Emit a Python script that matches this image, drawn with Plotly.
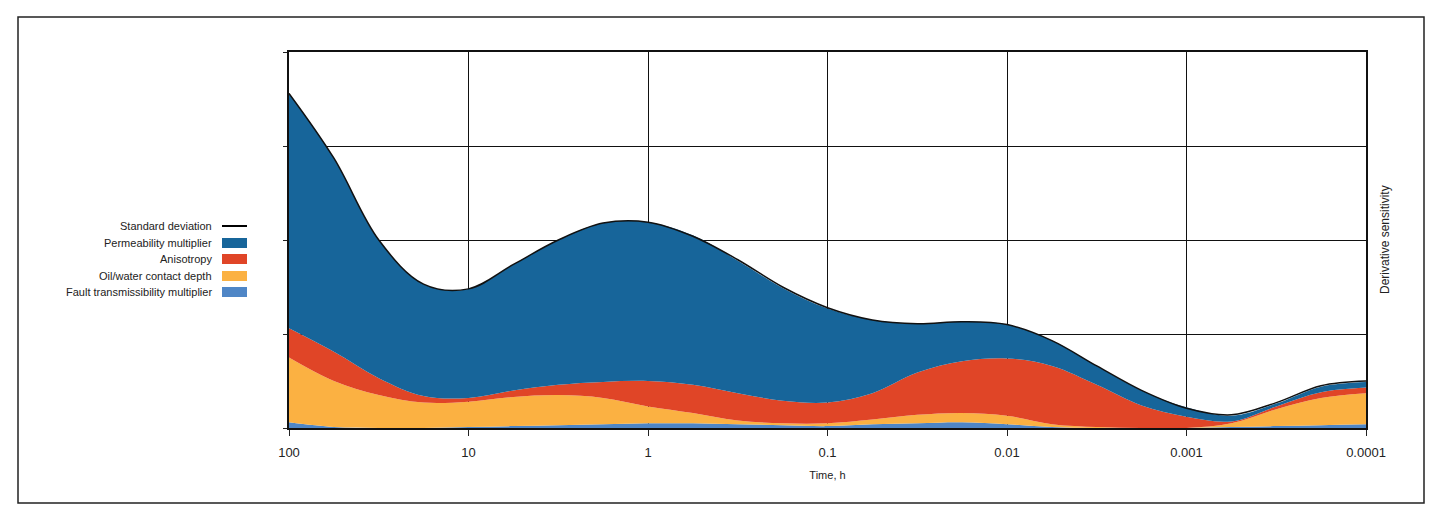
import plotly.graph_objects as go

# Time, h (log spacing, quarter decades from 100 h down to 0.0001 h)
time_h = [100, 56.2, 31.6, 17.8, 10, 5.62, 3.16, 1.78, 1, 0.562, 0.316, 0.178, 0.1,
          0.0562, 0.0316, 0.0178, 0.01, 0.00562, 0.00316, 0.00178, 0.001,
          0.000562, 0.000316, 0.000178, 0.0001]

# layer thicknesses (stacked)
fault_trans = [0.06, 0.01, 0.0, 0.0, 0.01, 0.02, 0.03, 0.04, 0.05, 0.05, 0.04, 0.03, 0.02,
               0.04, 0.05, 0.06, 0.04, 0.01, 0.0, 0.0, 0.0, 0.01, 0.02, 0.03, 0.04]
oil_water = [0.69, 0.49, 0.35, 0.27, 0.27, 0.31, 0.32, 0.28, 0.18, 0.11, 0.04, 0.02, 0.03,
             0.05, 0.09, 0.10, 0.09, 0.03, 0.01, 0.0, 0.0, 0.04, 0.18, 0.29, 0.33]
anisotropy = [0.31, 0.31, 0.18, 0.07, 0.04, 0.07, 0.11, 0.17, 0.27, 0.30, 0.29, 0.24, 0.22,
              0.28, 0.45, 0.55, 0.61, 0.62, 0.45, 0.24, 0.12, 0.02, 0.03, 0.06, 0.06]
permeability = [2.50, 2.06, 1.47, 1.19, 1.16, 1.34, 1.54, 1.69, 1.69, 1.59, 1.41, 1.20, 1.00,
                0.78, 0.52, 0.42, 0.36, 0.27, 0.20, 0.16, 0.10, 0.06, 0.03, 0.06, 0.06]
std_dev = [3.56, 2.87, 2.00, 1.53, 1.48, 1.74, 2.00, 2.18, 2.19, 2.04, 1.79, 1.50, 1.28,
           1.15, 1.11, 1.13, 1.10, 0.93, 0.66, 0.40, 0.21, 0.14, 0.27, 0.45, 0.50]

tick_vals = [100, 10, 1, 0.1, 0.01, 0.001, 0.0001]
tick_text = ["100", "10", "1", "0.1", "0.01", "0.001", "0.0001"]

colors = {
    "fault": "#4F86C6",
    "oil": "#FBB142",
    "aniso": "#E04527",
    "perm": "#17659A",
}

FONT = "Liberation Sans Narrow, Liberation Sans, Arial, sans-serif"

fig = go.Figure()

layers = [
    ("Fault transmissibility multiplier", fault_trans, colors["fault"]),
    ("Oil/water contact depth", oil_water, colors["oil"]),
    ("Anisotropy", anisotropy, colors["aniso"]),
    ("Permeability multiplier", permeability, colors["perm"]),
]
for name, vals, col in layers:
    fig.add_trace(go.Scatter(
        x=time_h, y=vals, name=name, stackgroup="s", mode="lines",
        line=dict(width=0, shape="spline", smoothing=1.0, color=col),
        fillcolor=col, showlegend=False,
    ))

fig.add_trace(go.Scatter(
    x=time_h, y=std_dev, name="Standard deviation", mode="lines",
    line=dict(color="#111111", width=1.5, shape="spline", smoothing=1.0),
    showlegend=False,
))

# --- légende faite à la main (symboles à droite du texte) ---
# coordonnées pixel de la page -> paper (zone de tracé 289..1366 x 52..428)
W, H = 1077.0, 376.0
def px(x):
    return (x - 289) / W
def py(y):
    return (428 - y) / H

legend_items = [
    ("Standard deviation", None),
    ("Permeability multiplier", colors["perm"]),
    ("Anisotropy", colors["aniso"]),
    ("Oil/water contact depth", colors["oil"]),
    ("Fault transmissibility multiplier", colors["fault"]),
]
shapes = []
annotations = []
y_centers = [226, 243, 259, 276, 292]
for (label, col), yc in zip(legend_items, y_centers):
    if col is None:
        shapes.append(dict(type="line", xref="paper", yref="paper",
                           x0=px(222), x1=px(247), y0=py(yc), y1=py(yc),
                           line=dict(color="black", width=2)))
    else:
        shapes.append(dict(type="rect", xref="paper", yref="paper",
                           x0=px(222), x1=px(247), y0=py(yc - 5), y1=py(yc + 5),
                           fillcolor=col, line=dict(width=0)))
    annotations.append(dict(text=label, xref="paper", yref="paper",
                            x=px(214), y=py(yc), xanchor="right", yanchor="middle",
                            showarrow=False, font=dict(size=11, color="#222222", family=FONT)))

# cadre extérieur
shapes.append(dict(type="rect", xref="paper", yref="paper",
                   x0=px(18), x1=px(1424), y0=py(503), y1=py(17),
                   line=dict(color="#222222", width=1.5), fillcolor="rgba(0,0,0,0)", layer="below"))

annotations.append(dict(text="Derivative sensitivity", xref="paper", yref="paper",
                        x=px(1385), y=0.5, textangle=-90, showarrow=False,
                        xanchor="center", yanchor="middle",
                        font=dict(size=12, color="#222222", family=FONT)))

# la page a une marge de 8 px : on compense
fig.update_layout(
    width=1434, height=511,
    margin=dict(l=281, r=76, t=44, b=91),
    paper_bgcolor="white", plot_bgcolor="white",
    font=dict(family=FONT, color="#222222"),
    shapes=shapes, annotations=annotations,
    xaxis=dict(
        type="log", range=[2, -4],
        tickvals=tick_vals, ticktext=tick_text,
        tickfont=dict(size=13, family=FONT, color="#222222"),
        ticks="outside", ticklen=6, tickcolor="#222222",
        ticklabelstandoff=6,
        showgrid=True, gridcolor="#111111", gridwidth=1.2,
        showline=True, linecolor="#111111", linewidth=1.5, mirror=True,
        zeroline=False,
        title=dict(text="Time, h", font=dict(size=11, family=FONT, color="#222222"), standoff=12),
    ),
    yaxis=dict(
        range=[0, 4], dtick=1, showticklabels=False,
        ticks="outside", ticklen=4, tickcolor="#222222",
        showgrid=True, gridcolor="#111111", gridwidth=1.2,
        showline=True, linecolor="#111111", linewidth=1.5, mirror=True,
        zeroline=False,
    ),
    showlegend=False,
)

fig.write_html("out.html")
